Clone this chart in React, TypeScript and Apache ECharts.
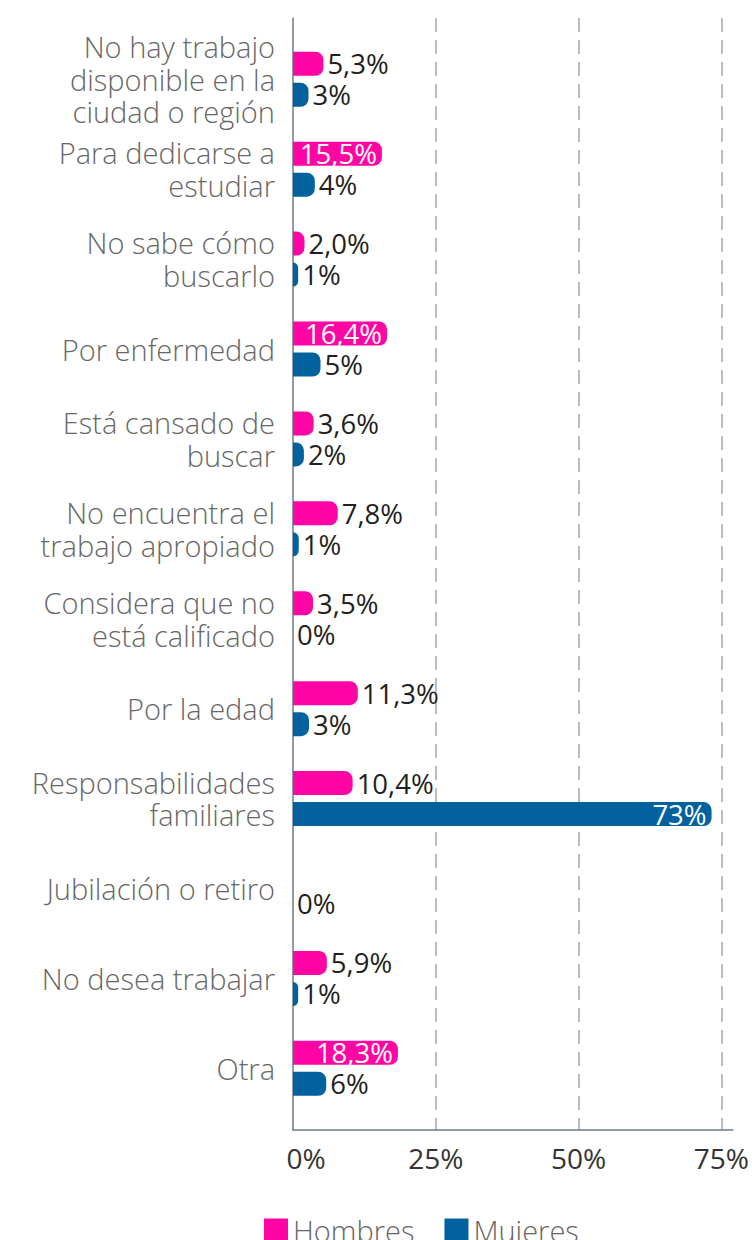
import React, { useEffect, useRef } from "react";
import * as echarts from "echarts";

const categories = [
  "No hay trabajo\ndisponible en la\nciudad o región",
  "Para dedicarse a\nestudiar",
  "No sabe cómo\nbuscarlo",
  "Por enfermedad",
  "Está cansado de\nbuscar",
  "No encuentra el\ntrabajo apropiado",
  "Considera que no\nestá calificado",
  "Por la edad",
  "Responsabilidades\nfamiliares",
  "Jubilación o retiro",
  "No desea trabajar",
  "Otra",
];
const hombres: (number | null)[] = [5.3, 15.5, 2.0, 16.4, 3.6, 7.8, 3.5, 11.3, 10.4, null, 5.9, 18.3];
const mujeres: number[] = [2.7, 3.8, 0.9, 4.8, 1.9, 1.0, 0, 2.8, 73.0, 0, 0.9, 5.8];
const seriesNames = ["Hombres", "Mujeres"];
const xTicks = [0, 25, 50, 75];

const PINK = "#ff05a3";
const BLUE = "#02629e";
const FONT = "'Open Sans', sans-serif";
const INSIDE_THRESHOLD = 15;

function buildData(values: (number | null)[], fmt: (v: number) => string) {
  return values.map((v) => {
    if (v == null) return null;
    const inside = v >= INSIDE_THRESHOLD;
    return {
      value: v,
      label: inside
        ? { position: "insideRight", color: "#ffffff", distance: 5, formatter: () => fmt(v) }
        : { position: "right", color: "#231f20", distance: 4, formatter: () => fmt(v) },
    };
  });
}

export default function App() {
  const ref = useRef<HTMLDivElement>(null);
  useEffect(() => {
    document.body.style.margin = "0";
    const chart = echarts.init(ref.current!, null, { renderer: "svg" });
    const labelBase = {
      show: true,
      fontSize: 27.5,
      lineHeight: 26,
      fontFamily: FONT,
      fontWeight: 400,
    };
    const option: any = {
      animation: false,
      backgroundColor: "#ffffff",
      grid: [
        { left: 293, top: 34.3, width: 441.5, height: 1079 },
        { left: 293, top: 18, width: 441.5, height: 1112 },
      ],
      xAxis: [
        { gridIndex: 0, type: "value", min: 0, max: 77, interval: 25, show: false },
        {
          gridIndex: 1,
          type: "value",
          min: 0,
          max: 77,
          interval: 25,
          axisLine: { show: true, lineStyle: { color: "#6f7b82", width: 1.5 } },
          axisTick: { show: false },
          splitLine: {
            show: true,
            showMinLine: false,
            showMaxLine: false,
            lineStyle: { type: [14, 8], color: "#b9bec2", width: 2 },
          },
          axisLabel: {
            showMaxLabel: false,
            margin: 14,
            fontSize: 28,
            fontFamily: FONT,
            fontWeight: 400,
            color: "#333333",
            formatter: (v: number) =>
              xTicks.includes(v) ? (v === 0 ? "{z|" + v + "%}" : v + "%") : "",
            rich: {
              z: { fontSize: 28, fontFamily: FONT, color: "#333333", padding: [0, 0, 0, 26] },
            },
          },
        },
      ],
      yAxis: [
        {
          gridIndex: 0,
          type: "category",
          data: categories,
          inverse: true,
          axisLine: { show: false },
          axisTick: { show: false },
          axisLabel: {
            margin: 18,
            fontSize: 29,
            lineHeight: 32.5,
            fontFamily: FONT,
            fontWeight: 300,
            color: "#676767",
            align: "right",
          },
        },
        {
          gridIndex: 1,
          type: "value",
          axisLine: { show: true, lineStyle: { color: "#6f7b82", width: 1.5 } },
          axisTick: { show: false },
          axisLabel: { show: false },
          splitLine: { show: false },
        },
      ],
      legend: {
        data: seriesNames,
        left: 264,
        top: 1216,
        padding: 0,
        icon: "rect",
        itemWidth: 24,
        itemHeight: 24,
        itemGap: 30,
        textStyle: { fontSize: 29, lineHeight: 24, fontFamily: FONT, fontWeight: 300, color: "#666666" },
      },
      series: [
        {
          name: seriesNames[0],
          type: "bar",
          xAxisIndex: 0,
          yAxisIndex: 0,
          barWidth: 24,
          barGap: "29%",
          itemStyle: { color: PINK, borderRadius: [0, 8, 8, 0] },
          label: labelBase,
          data: buildData(hombres, (v) => v.toFixed(1).replace(".", ",") + "%"),
        },
        {
          name: seriesNames[1],
          type: "bar",
          xAxisIndex: 0,
          yAxisIndex: 0,
          barWidth: 24,
          barGap: "29%",
          itemStyle: { color: BLUE, borderRadius: [0, 8, 8, 0] },
          label: labelBase,
          data: buildData(mujeres, (v) => Math.round(v) + "%"),
        },
      ],
    };
    chart.setOption(option);
    return () => chart.dispose();
  }, []);
  return <div ref={ref} style={{ width: 752, height: 1240 }} />;
}
